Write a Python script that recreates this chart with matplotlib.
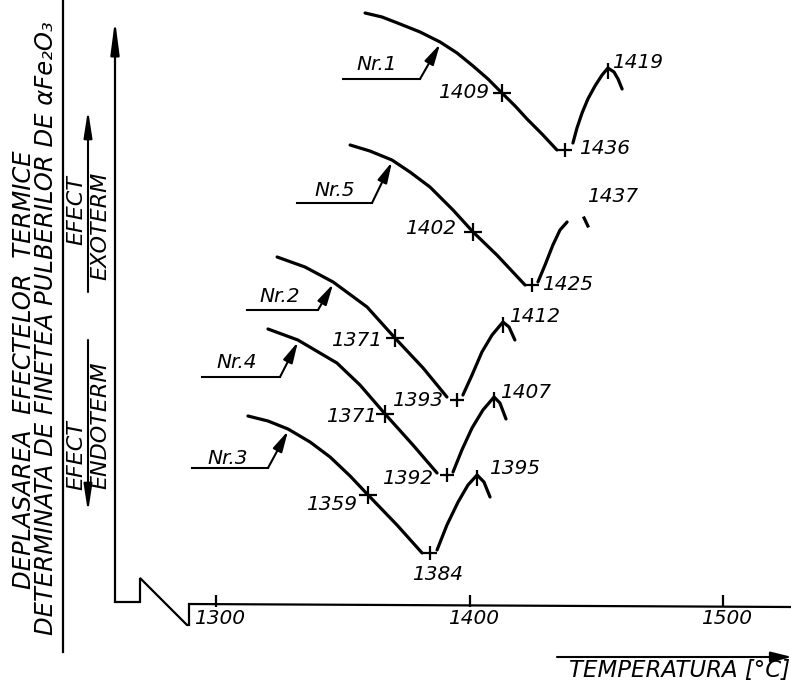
"""
Shift of the DTA thermal effects with the fineness of alpha-Fe2O3 powders.

Redraws a scanned technical figure: five DTA traces (Nr.1 ... Nr.5) plotted
against temperature, each with an endothermic dip followed by an exothermic rise.
"""

import matplotlib
matplotlib.use("Agg")
import matplotlib.pyplot as plt

OUT_PATH = "out.png"

# ---- Data: temperature [degC] and DTA deflection [arbitrary units] ----
TEMP_TICKS = [1300, 1400, 1500]

SAMPLES = ["Nr.1", "Nr.5", "Nr.2", "Nr.4", "Nr.3"]

# falling (endothermic) branch of every trace
FALL_T = [
    [1358.8, 1365.5, 1372.6, 1380.5, 1388.4, 1395.1, 1401.4, 1407.3, 1412.8, 1418.0, 1422.7, 1428.6, 1434.5],
    [1352.9, 1360.7, 1369.4, 1376.5, 1384.4, 1393.5, 1401.4, 1410.8, 1421.9],
    [1324.1, 1335.1, 1346.2, 1359.6, 1370.6, 1381.7, 1391.1],
    [1320.5, 1332.3, 1347.7, 1356.8, 1366.7, 1377.7, 1387.2],
    [1312.6, 1320.5, 1328.4, 1337.1, 1345.0, 1352.9, 1360.0, 1371.4, 1381.3],
]
FALL_Y = [
    [591, 587, 580, 572, 562, 551, 538, 525, 511, 498, 485, 470, 454],
    [459, 453, 444, 432, 417, 394, 372, 349, 319],
    [347, 337, 322, 297, 266, 236, 207],
    [275, 264, 241, 219, 190, 159, 131],
    [188, 183, 175, 162, 147, 128, 109, 79, 51],
]

# rising (exothermic) branch, ending with the short fall after the peak
RISE_T = [
    [1440.8, 1442.4, 1444.4, 1446.7, 1449.5, 1452.3, 1454.6, 1457.0, 1458.6, 1460.2],
    [1427.0, 1429.8, 1432.9, 1435.7, 1438.5],
    [1397.4, 1401.0, 1404.9, 1408.9, 1413.2, 1415.6, 1417.9],
    [1393.5, 1397.0, 1401.0, 1405.3, 1409.7, 1412.0, 1414.4],
    [1387.2, 1391.1, 1395.5, 1399.4, 1403.0, 1405.7, 1408.1],
]
RISE_Y = [
    [461, 476, 491, 505, 518, 529, 536, 532, 525, 515],
    [322, 339, 359, 374, 382],
    [209, 229, 252, 269, 282, 277, 264],
    [132, 154, 176, 194, 207, 201, 185],
    [54, 79, 102, 119, 129, 122, 107],
]
HAS_PEAK = [True, False, True, True, True]

# leftover stroke of the Nr.5 peak (scan is broken there)
NR5_TAIL_T = [1445.2, 1446.7]
NR5_TAIL_Y = [386, 378]

# marked points: inflection on the falling branch and the minimum
INFL_T = [1412.8, 1401.4, 1370.6, 1366.7, 1360.0]
INFL_Y = [511, 372, 266, 190, 109]
MIN_T = [1437.7, 1424.7, 1395.1, 1391.1, 1384.4]
MIN_Y = [454, 319, 204, 129, 51]

INFL_LABELS = ["1409", "1402", "1371", "1371", "1359"]
MIN_LABELS = ["1436", "1425", "1393", "1392", "1384"]
PEAK_LABELS = ["1419", "1437", "1412", "1407", "1395"]

# ---- Layout (positions in pixels of the 791x687 sheet) ----
W, H = 791, 687
X0_PX, PX_PER_DEG = 216, 2.535
BASE_PX = 604

INFL_LABEL_PX = [(464, 93), (431, 229), (357, 341), (352, 417), (332, 504)]
MIN_LABEL_PX = [(605, 149), (568, 285), (418, 400), (408, 478), (438, 574)]
PEAK_LABEL_PX = [(638, 62), (613, 197), (535, 316), (526, 393), (515, 469)]
NAME_LABEL_PX = [(377, 65), (335, 191), (280, 296), (237, 363), (228, 459)]
LEADER_PX = [(343, 420, 79), (297, 372, 203), (247, 318, 310), (202, 280, 377), (192, 268, 468)]
ARROW_AT = [4, 2, 2, 1, 2]

LW_CURVE = 2.3
LW_AXIS = 1.6
FONT = dict(family="DejaVu Sans", style="italic")


def tx(px):
    return 1300 + (px - X0_PX) / PX_PER_DEG


def ty(py):
    return BASE_PX - py


def arrow(ax, start_px, end_px, scale=18, head_len=0.9, head_w=0.15, lw=1.5):
    ax.annotate("", xy=(tx(end_px[0]), ty(end_px[1])), xytext=(tx(start_px[0]), ty(start_px[1])),
                annotation_clip=False,
                arrowprops=dict(arrowstyle=f"-|>,head_length={head_len},head_width={head_w}",
                                mutation_scale=scale, color="black", lw=lw,
                                shrinkA=0, shrinkB=0))


def main():
    fig = plt.figure(figsize=(W / 100, H / 100), dpi=100)
    ax = fig.add_axes([0, 0, 1, 1])
    ax.set_xlim(tx(0), tx(W))
    ax.set_ylim(ty(H), ty(0))
    ax.axis("off")

    # ---- traces ----
    for i, name in enumerate(SAMPLES):
        ax.plot(FALL_T[i], FALL_Y[i], color="black", lw=LW_CURVE, solid_capstyle="round")
        ax.plot(RISE_T[i], RISE_Y[i], color="black", lw=LW_CURVE, solid_capstyle="round")
        ax.plot(INFL_T[i], INFL_Y[i], marker="+", ms=13, mew=1.6, color="black")
        ax.plot(MIN_T[i], MIN_Y[i], marker="+", ms=10, mew=1.6, color="black")
        if HAS_PEAK[i]:
            k = RISE_Y[i].index(max(RISE_Y[i]))
            ax.plot(RISE_T[i][k], RISE_Y[i][k] - 3, marker="|", ms=12, mew=1.6, color="black")

        ax.text(tx(INFL_LABEL_PX[i][0]), ty(INFL_LABEL_PX[i][1]), INFL_LABELS[i],
                ha="center", va="center", fontsize=14.5, **FONT)
        ax.text(tx(MIN_LABEL_PX[i][0]), ty(MIN_LABEL_PX[i][1]), MIN_LABELS[i],
                ha="center", va="center", fontsize=14.5, **FONT)
        ax.text(tx(PEAK_LABEL_PX[i][0]), ty(PEAK_LABEL_PX[i][1]), PEAK_LABELS[i],
                ha="center", va="center", fontsize=14.5, **FONT)

        # sample name on a leader line pointing at the falling branch
        x_a, x_b, y_l = LEADER_PX[i]
        ax.plot([tx(x_a), tx(x_b)], [ty(y_l), ty(y_l)], color="black", lw=1.5)
        j = ARROW_AT[i]
        ax.annotate("", xy=(FALL_T[i][j], FALL_Y[i][j] - 2), xytext=(tx(x_b), ty(y_l)),
                    arrowprops=dict(arrowstyle="-|>,head_length=0.7,head_width=0.17",
                                    mutation_scale=18, color="black", lw=1.5,
                                    shrinkA=0, shrinkB=0))
        ax.text(tx(NAME_LABEL_PX[i][0]), ty(NAME_LABEL_PX[i][1]), name,
                ha="center", va="center", fontsize=14.5, **FONT)

    ax.plot(NR5_TAIL_T, NR5_TAIL_Y, color="black", lw=LW_CURVE)

    # ---- temperature axis with the broken origin ----
    frame_px = [(115, 602), (140, 602), (140, 578), (187, 625), (189, 625), (189, 604), (W, 607)]
    ax.plot([tx(p[0]) for p in frame_px], [ty(p[1]) for p in frame_px],
            color="black", lw=LW_AXIS, solid_joinstyle="miter")
    ax.vlines(TEMP_TICKS, ty(607), ty(595), color="black", lw=LW_AXIS)
    for t in TEMP_TICKS:
        ax.text(t + 4 / PX_PER_DEG, ty(619), str(t), ha="center", va="center",
                fontsize=14.5, **FONT)

    arrow(ax, (557, 657), (W + 1, 657), scale=16, head_len=0.8, head_w=0.2)
    ax.text(tx(790), ty(670), "TEMPERATURA [°C]", ha="right", va="center",
            fontsize=16.5, **FONT)

    # ---- DTA axis and its captions ----
    arrow(ax, (115, 602), (115, 20), scale=20, head_len=1.0, head_w=0.13, lw=LW_AXIS)
    ax.plot([tx(63), tx(63)], [ty(0), ty(652)], color="black", lw=LW_AXIS)

    ax.text(tx(24), ty(370), "DEPLASAREA  EFECTELOR  TERMICE", rotation=90,
            ha="center", va="center", fontsize=17.5, **FONT)
    ax.text(tx(46), ty(328), "DETERMINATA DE FINETEA PULBERILOR DE \u03b1Fe\u2082O\u2083",
            rotation=90, ha="center", va="center", fontsize=17.5, **FONT)

    # exothermic direction (up)
    arrow(ax, (88, 292), (88, 110), head_w=0.14)
    ax.text(tx(76), ty(210), "EFECT", rotation=90, ha="center", va="center",
            fontsize=16, **FONT)
    ax.text(tx(100), ty(226), "EXOTERM", rotation=90, ha="center", va="center",
            fontsize=16, **FONT)

    # endothermic direction (down)
    arrow(ax, (88, 340), (88, 512), head_w=0.14)
    ax.text(tx(76), ty(455), "EFECT", rotation=90, ha="center", va="center",
            fontsize=16, **FONT)
    ax.text(tx(100), ty(425), "ENDOTERM", rotation=90, ha="center", va="center",
            fontsize=16, **FONT)

    fig.savefig(OUT_PATH, dpi=100, facecolor="white")


if __name__ == "__main__":
    main()
